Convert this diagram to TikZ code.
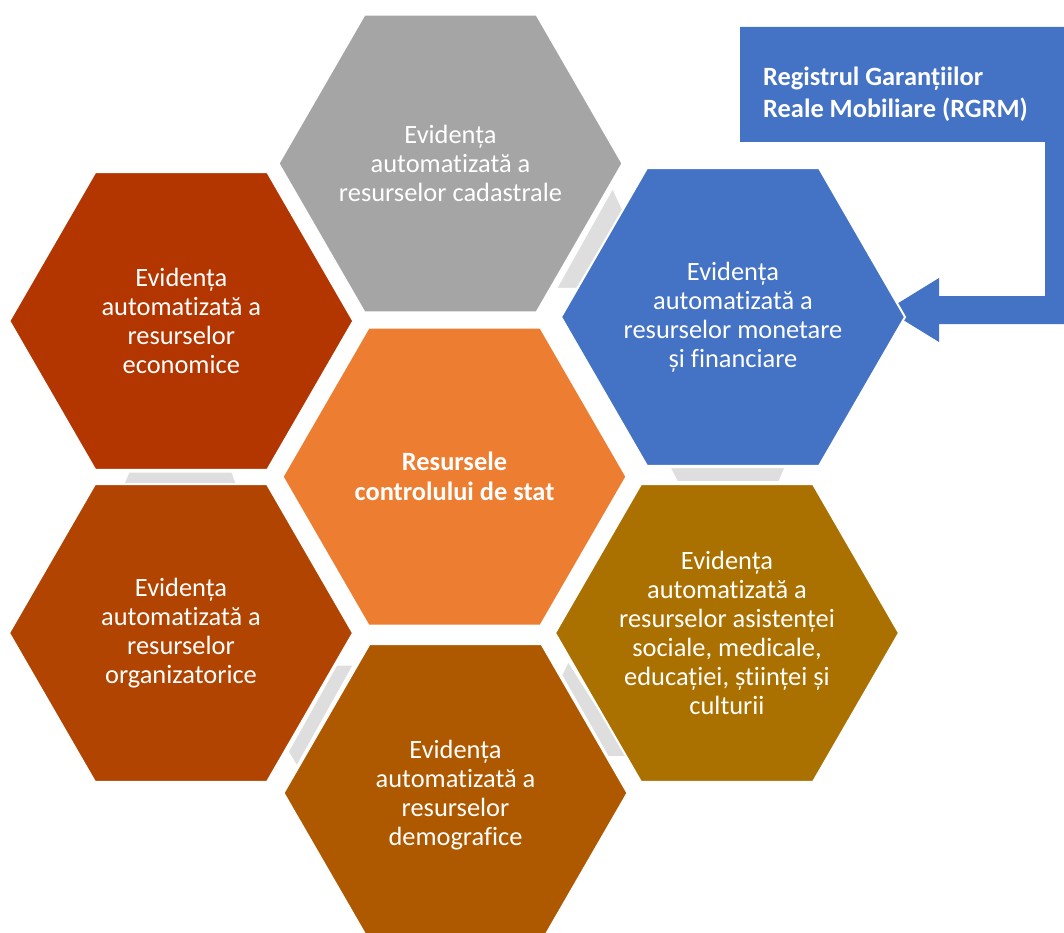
\documentclass[tikz,border=0pt]{standalone}
\usepackage{fontspec}
\setmainfont{Carlito}[Ligatures=NoCommon]
\usetikzlibrary{shapes.geometric}

\definecolor{cadGray}{HTML}{A5A5A5}
\definecolor{ctrOrange}{HTML}{ED7D31}
\definecolor{monBlue}{HTML}{4472C4}
\definecolor{ecoRed}{HTML}{B33500}
\definecolor{orgRed}{HTML}{B14400}
\definecolor{demBrown}{HTML}{AE5800}
\definecolor{socGold}{HTML}{AB7100}
\definecolor{linkGray}{HTML}{DEDEDE}

\tikzset{
  hexa/.style={regular polygon, regular polygon sides=6, minimum size=344pt,
    inner sep=0pt, draw=white, line width=2pt},
  hextext/.style={inner sep=0pt, text=white, align=center,
    font=\fontsize{26.4}{29}\selectfont},
  link/.style={fill=linkGray, draw=white, line width=1pt},
}

\begin{document}
\begin{tikzpicture}[x=1pt,y=-1pt]
  \useasboundingbox (0,0) rectangle (1064,933);

  % Gray links between the outer hexagons
  \draw [link] (612.7,188.3) -- (623.3,211.7) -- (576.7,288.3) -- (556.7,288.3) -- cycle;
  \draw [link] (670,467.5) -- (785,467.5) -- (779,481.7) -- (677.5,481.7) -- cycle;
  \draw [link] (568.3,661.7) -- (628.3,756.7) -- (608.3,756.7) -- (561.7,675) -- cycle;
  \draw [link] (336.7,665) -- (353.3,665) -- (296.7,766) -- (288.3,751.7) -- cycle;
  \draw [link] (129,472) -- (232,472) -- (236,483.5) -- (124,483.5) -- cycle;

  % Callout RGRM with arrow to the blue hexagon
  \fill [monBlue] (740,27) -- (1064,27) -- (1064,324) -- (939,324) -- (939,342)
    -- (887,310) -- (939,278) -- (939,296) -- (1045,296) -- (1045,142) -- (740,142) -- cycle;
  \node [anchor=west, inner sep=0pt, text=white, align=left,
    font=\bfseries\fontsize{26.4}{31.7}\selectfont] (rgrm) at (763,94)
    {Registrul Garanțiilor\\Reale Mobiliare (RGRM)};

  % Outer hexagons
  \node [hexa, fill=cadGray] (cad) at (450.5,163.5) {};
  \node [hextext] (cadtxt) at (cad) {Evidența\\automatizată a\\resurselor cadastrale};

  \node [hexa, fill=monBlue] (mon) at (733,317) {};
  \node [hextext] (montxt) at (mon) {Evidența\\automatizată a\\resurselor monetare\\și financiare};

  \node [hexa, fill=socGold] (soc) at (727,633) {};
  \node [hextext] (soctxt) at (soc)
    {Evidența\\automatizată a\\resurselor asistenței\\sociale, medicale,\\educației, științei și\\culturii};

  \node [hexa, fill=demBrown] (dem) at (455.5,793) {};
  \node [hextext] (demtxt) at ([yshift=-2pt]dem) {Evidența\\automatizată a\\resurselor\\demografice};

  \node [hexa, fill=orgRed] (org) at (181,633) {};
  \node [hextext] (orgtxt) at (org) {Evidența\\automatizată a\\resurselor\\organizatorice};

  \node [hexa, fill=ecoRed] (eco) at (181.3,321) {};
  \node [hextext] (ecotxt) at (eco) {Evidența\\automatizată a\\resurselor\\economice};

  % Center hexagon
  \node [hexa, fill=ctrOrange] (ctr) at (454.5,476.7) {};
  \node [hextext, font=\bfseries\fontsize{26.4}{30}\selectfont] (ctrtxt) at (ctr)
    {Resursele\\controlului de stat};
\end{tikzpicture}
\end{document}
